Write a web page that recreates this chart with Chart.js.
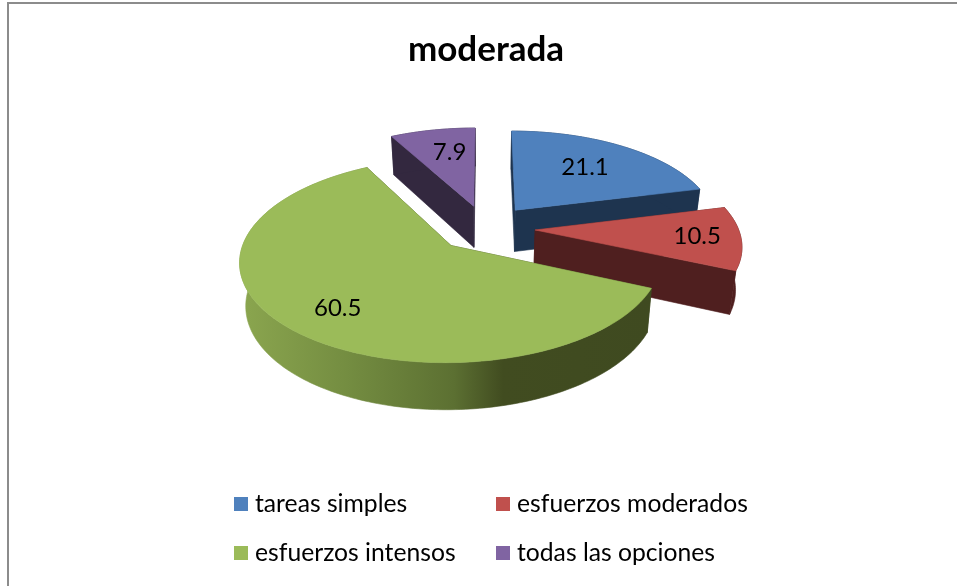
<!DOCTYPE html>
<html><head><meta charset="utf-8">
<style>
html,body{margin:0;padding:0;background:#fff;overflow:hidden}
#wrap{position:relative;width:957px;height:586px}
#frame{position:absolute;left:7px;top:2px;right:0;bottom:0;border-left:2px solid #8c8c8c;border-top:2px solid #8c8c8c;pointer-events:none}
canvas{position:absolute;left:0;top:0}
</style>
<script src="https://cdn.jsdelivr.net/npm/chart.js@4"></script>
</head><body>
<div id="wrap"><canvas id="c" width="957" height="586"></canvas><div id="frame"></div></div>
<script>
const titleText = "moderada";
const categories = ["tareas simples", "esfuerzos moderados", "esfuerzos intensos", "todas las opciones"];
const values = [21.1, 10.5, 60.5, 7.9];
const topColors = ["#4f81bd", "#c0504d", "#9bbb59", "#8064a2"];
const sideColors = ["#1e344f", "#4f1f1f", "#3f4a20", "#33283f"];
const labelRadius = [0.65, 0.77, 0.745, 0.68];
const labelNudge = [[-2, 0], [4, 0], [4, 3], [5, 0]];
const paintOrder = [3, 0, 1, 2];
const FONT = "Lato, Carlito, sans-serif";

// Camera of the tilted pie: plane units are one pie radius
const cam = {cx: 485.5, cy: 228, fx: 203, fy: 95, persp: 0.142, depth: 42, taper: 0.025};
function project(px, py, z) {
  const s = 1 / (1 + cam.persp * py);
  const t = 1 - cam.taper * z;
  return [cam.cx + cam.fx * px * s * t, cam.cy - cam.fy * py * s * t + cam.depth * z * s];
}
function tracePts(ctx, pts) {
  ctx.beginPath();
  pts.forEach((p, i) => i ? ctx.lineTo(p[0], p[1]) : ctx.moveTo(p[0], p[1]));
  ctx.closePath();
}
function fillPts(ctx, pts, color) {
  tracePts(ctx, pts);
  ctx.fillStyle = color;
  ctx.strokeStyle = color;
  ctx.lineWidth = 0.6;
  ctx.fill();
  ctx.stroke();
}

const pie3d = {
  id: "pie3d",
  beforeDatasetsDraw(chart) {
    const ctx = chart.ctx;
    const meta = chart.getDatasetMeta(0);
    const geo = meta.data.map(el => {
      const p = el.getProps(["startAngle", "endAngle", "outerRadius"], true);
      const mid = (p.startAngle + p.endAngle) / 2;
      const e = (el.options.offset / 4) / p.outerRadius;
      const ax = e * Math.cos(mid), ay = -e * Math.sin(mid);
      const rim = [];
      const n = Math.max(8, Math.ceil((p.endAngle - p.startAngle) / 0.02));
      for (let i = 0; i <= n; i++) {
        const a = p.startAngle + (p.endAngle - p.startAngle) * i / n;
        rim.push([ax + Math.cos(a), ay - Math.sin(a)]);
      }
      return {mid, ax, ay, rim};
    });
    ctx.save();
    paintOrder.forEach(i => {
      const g = geo[i];
      const top = g.rim.map(q => project(q[0], q[1], 0));
      const bot = g.rim.map(q => project(q[0], q[1], 1));
      const at = project(g.ax, g.ay, 0), ab = project(g.ax, g.ay, 1);
      // cut walls
      fillPts(ctx, [at, top[0], bot[0], ab], sideColors[i]);
      fillPts(ctx, [at, top[top.length - 1], bot[bot.length - 1], ab], sideColors[i]);
      // outer wall
      let wall = sideColors[i];
      if (i === 2) {
        const xs = top.map(p => p[0]);
        const x0 = Math.min(...xs), x1 = Math.max(...xs);
        wall = ctx.createLinearGradient(x0, 0, x1, 0);
        wall.addColorStop(0, "#8ba64f");
        wall.addColorStop(0.26, "#748d41");
        wall.addColorStop(0.52, "#5c7032");
        wall.addColorStop(0.64, "#414c20");
        wall.addColorStop(1, "#3f4a20");
      }
      fillPts(ctx, top.concat(bot.slice().reverse()), wall);
      // top face
      fillPts(ctx, [at].concat(top), topColors[i]);
    });
    // value labels
    ctx.fillStyle = "#000";
    ctx.font = "24px " + FONT;
    ctx.textAlign = "center";
    ctx.textBaseline = "middle";
    geo.forEach((g, i) => {
      const r = labelRadius[i];
      const q = project(g.ax + r * Math.cos(g.mid), g.ay - r * Math.sin(g.mid), 0);
      ctx.fillText(values[i].toFixed(1), q[0] + labelNudge[i][0], q[1] + labelNudge[i][1]);
    });
    // legend
    const slots = [[234, 504], [496, 504], [234, 553], [496, 553]];
    ctx.font = "24.7px " + FONT;
    ctx.textAlign = "left";
    categories.forEach((name, i) => {
      const s = slots[i];
      ctx.fillStyle = topColors[i];
      ctx.fillRect(s[0], s[1] - 7, 14, 14);
      ctx.fillStyle = "#000";
      ctx.fillText(name, s[0] + 21, s[1]);
    });
    ctx.restore();
    return false;
  }
};

new Chart(document.getElementById("c"), {
  type: "pie",
  data: {
    labels: categories,
    datasets: [{data: values, backgroundColor: topColors, borderWidth: 0, offset: 134}]
  },
  options: {
    responsive: false,
    animation: false,
    layout: {padding: {left: 15, bottom: 100}},
    plugins: {
      legend: {display: false},
      tooltip: {enabled: false},
      title: {
        display: true, text: titleText, color: "#000",
        font: {family: FONT, size: 35, weight: "bold"},
        padding: {top: 29, bottom: 7}
      }
    }
  },
  plugins: [pie3d]
});
</script>
</body></html>
